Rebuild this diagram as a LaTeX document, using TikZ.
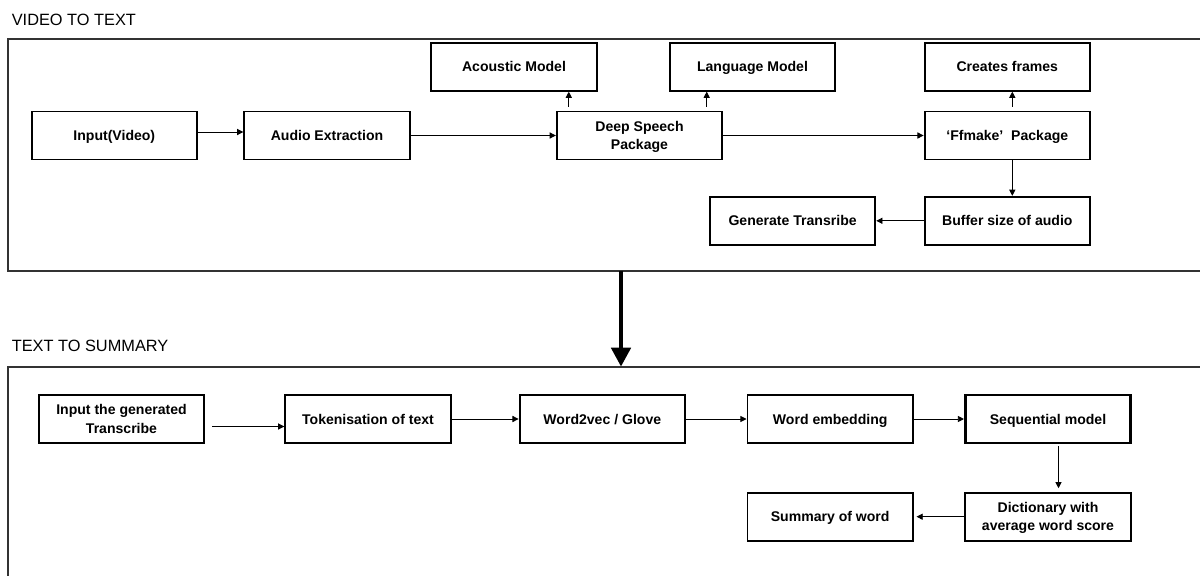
\documentclass[tikz,border=0pt]{standalone}
\usepackage{fontspec}
\setmainfont{Liberation Sans}
\usepackage{tikz}
\usetikzlibrary{arrows.meta, positioning}
\newcommand{\capStrut}{\rule[-2.3pt]{0pt}{10.5pt}}
\newcommand{\topStrut}{\rule[-2.3pt]{0pt}{20.8pt}}

\begin{document}
\begin{tikzpicture}[x=0.02cm, y=-0.02cm,
    stage/.style={draw, line width=1.1pt, minimum width=3.31cm, minimum height=0.96cm,
        inner sep=0pt, align=center, font=\fontsize{8}{10.5}\selectfont\bfseries,
        execute at begin node=\capStrut, execute at end node=\capStrut},
    twoLine/.style={execute at begin node=\topStrut},
    flow/.style={line width=0.5pt, -{Triangle[length=3.5pt, width=3.5pt]}},
    bigflow/.style={line width=2.6pt, -{Triangle[length=0.38cm, width=0.38cm]}},
    frame/.style={line width=1.1pt, draw=black!80},
    heading/.style={anchor=base west, inner sep=0pt, font=\fontsize{9.3}{11}\selectfont}
]
    \useasboundingbox (0,0) rectangle (1200,575);
    \def\rowA{66.7}
    \def\rowB{135.5}
    \def\rowC{220.8}
    \def\rowD{419}
    \def\rowE{516.7}

    % Frames of the two stages
    \node[heading] (vtTitle) at (11.5,25) {VIDEO TO TEXT};
    \draw[frame] (1205,39) -- (8.4,39) -- (8.4,271) -- (1205,271);
    \node[heading] (tsTitle) at (11.5,351.7) {TEXT TO SUMMARY};
    \draw[frame] (1205,366.7) -- (8.4,366.7) -- (8.4,580);

    % Video to text
    \node[stage] (inVid) at (114.3,\rowB) {Input(Video)};
    \node[stage] (audExt) at (327,\rowB) {Audio Extraction};
    \node[stage, twoLine] (dsPkg) at (639.5,\rowB) {Deep Speech\\Package};
    \node[stage] (acModel) at (514,\rowA) {Acoustic Model};
    \node[stage] (langModel) at (752.5,\rowA) {Language Model};
    \node[stage] (ffPkg) at (1007.3,\rowB) {‘Ffmake’~ Package};
    \node[stage] (crFrames) at (1007.3,\rowA) {Creates frames};
    \node[stage] (bufAudio) at (1007.3,\rowC) {Buffer size of audio};
    \node[stage] (genTrans) at (792.6,\rowC) {Generate Transribe};

    \coordinate (ivTail) at ([yshift=0.07cm]inVid.east);
    \draw[flow] (ivTail) -- (ivTail -| audExt.west);
    \draw[flow] (audExt) -- (dsPkg);
    \coordinate (acTail) at ([xshift=0.26cm, yshift=0.08cm]dsPkg.north west);
    \draw[flow] (acTail) -- (acTail |- acModel.south);
    \coordinate (lmTail) at ([xshift=-0.33cm, yshift=0.08cm]dsPkg.north east);
    \draw[flow] (lmTail) -- (lmTail |- langModel.south);
    \draw[flow] (dsPkg) -- (ffPkg);
    \coordinate (cfTail) at ([xshift=0.1cm, yshift=0.08cm]ffPkg.north);
    \draw[flow] (cfTail) -- (cfTail |- crFrames.south);
    \coordinate (baTail) at ([xshift=0.1cm]ffPkg.south);
    \draw[flow] (baTail) -- (baTail |- bufAudio.north);
    \draw[flow] (bufAudio) -- (genTrans);

    % Hand over to the summary stage
    \coordinate (vtBot) at (621,271);
    \coordinate (tsTop) at (621,366.7);
    \draw[bigflow] (vtBot) -- (tsTop);

    % Text to summary
    \node[stage, twoLine] (inTrans) at (121.5,\rowD) {Input the generated\\Transcribe};
    \node[stage] (tokText) at (368,\rowD) {Tokenisation of text};
    \node[stage] (wordVec) at (602.3,\rowD) {Word2vec / Glove};
    \node[stage] (wordEmb) at (830.2,\rowD) {Word embedding};
    \node[stage, line width=1.5pt] (seqModel) at (1048,\rowD) {Sequential model};
    \node[stage, twoLine] (dictScore) at (1048,\rowE) {Dictionary with\\average word score};
    \node[stage] (sumWord) at (830.2,\rowE) {Summary of word};

    \coordinate (itTail) at ([xshift=0.14cm, yshift=-0.15cm]inTrans.east);
    \draw[flow] (itTail) -- (itTail -| tokText.west);
    \draw[flow] (tokText) -- (wordVec);
    \draw[flow] (wordVec) -- (wordEmb);
    \draw[flow] (wordEmb) -- (seqModel);
    \coordinate (sqTail) at ([xshift=0.21cm, yshift=-0.04cm]seqModel.south);
    \draw[flow, shorten >=2pt] (sqTail) -- (sqTail |- dictScore.north);
    \draw[flow, shorten >=1.5pt] (dictScore) -- (sumWord);
\end{tikzpicture}
\end{document}
